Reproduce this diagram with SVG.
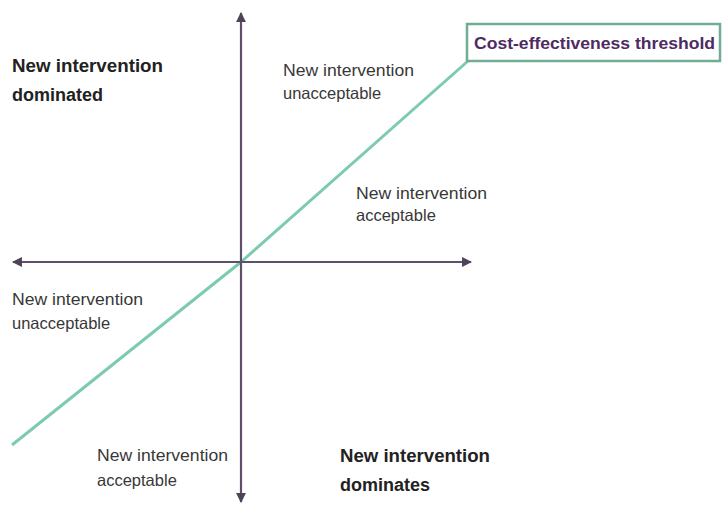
<svg xmlns="http://www.w3.org/2000/svg" width="725" height="507" viewBox="0 0 725 507">
  <defs>
    <marker id="arrow" viewBox="0 0 10 10" refX="9" refY="5" markerWidth="4.5" markerHeight="4.5" orient="auto-start-reverse" markerUnits="strokeWidth">
      <path d="M0,0 L10,5 L0,10 z" fill="#4f4259"/>
    </marker>
    <style>
      .axis { stroke: #5f5069; stroke-width: 2.2; fill: none; }
      .threshold { stroke: #7ccab0; stroke-width: 3; fill: none; stroke-linejoin: round; }
      .lbl { font-family: "Liberation Sans", Arial, sans-serif; font-size: 16.5px; fill: #383838; }
      .head { font-family: "Liberation Sans", Arial, sans-serif; font-size: 18px; font-weight: bold; fill: #222222; }
      .box { fill: #ffffff; stroke: #6fae95; stroke-width: 2.5; }
      .boxtext { font-family: "Liberation Sans", Arial, sans-serif; font-size: 16.5px; font-weight: bold; fill: #4e2b63; }
    </style>
  </defs>
  <rect width="725" height="507" fill="#ffffff"/>

  <g id="connectors">
    <!-- cost-effectiveness threshold line, through the origin to the label box -->
    <polyline class="threshold" points="12,445 241,262 468,61"/>
    <!-- axes -->
    <line class="axis" x1="241" y1="502" x2="241" y2="13" marker-start="url(#arrow)" marker-end="url(#arrow)"/>
    <line class="axis" x1="13" y1="262" x2="471" y2="262" marker-start="url(#arrow)" marker-end="url(#arrow)"/>
  </g>

  <g id="threshold-label">
    <rect class="box" x="467" y="24" width="253" height="37"/>
    <text class="boxtext" x="474" y="49" textLength="241" lengthAdjust="spacingAndGlyphs">Cost-effectiveness threshold</text>
  </g>

  <g id="q-dominated">
    <text class="head" x="12" y="72" textLength="151" lengthAdjust="spacingAndGlyphs">New intervention</text>
    <text class="head" x="12" y="101">dominated</text>
  </g>

  <g id="q-upper-unacceptable">
    <text class="lbl" x="283" y="76" textLength="131" lengthAdjust="spacingAndGlyphs">New intervention</text>
    <text class="lbl" x="283" y="99">unacceptable</text>
  </g>

  <g id="q-upper-acceptable">
    <text class="lbl" x="356" y="199" textLength="131" lengthAdjust="spacingAndGlyphs">New intervention</text>
    <text class="lbl" x="356" y="221">acceptable</text>
  </g>

  <g id="q-lower-unacceptable">
    <text class="lbl" x="12" y="305" textLength="131" lengthAdjust="spacingAndGlyphs">New intervention</text>
    <text class="lbl" x="12" y="329">unacceptable</text>
  </g>

  <g id="q-lower-acceptable">
    <text class="lbl" x="97" y="461" textLength="131" lengthAdjust="spacingAndGlyphs">New intervention</text>
    <text class="lbl" x="97" y="486">acceptable</text>
  </g>

  <g id="q-dominates">
    <text class="head" x="340" y="462" textLength="150" lengthAdjust="spacingAndGlyphs">New intervention</text>
    <text class="head" x="340" y="491">dominates</text>
  </g>
</svg>
